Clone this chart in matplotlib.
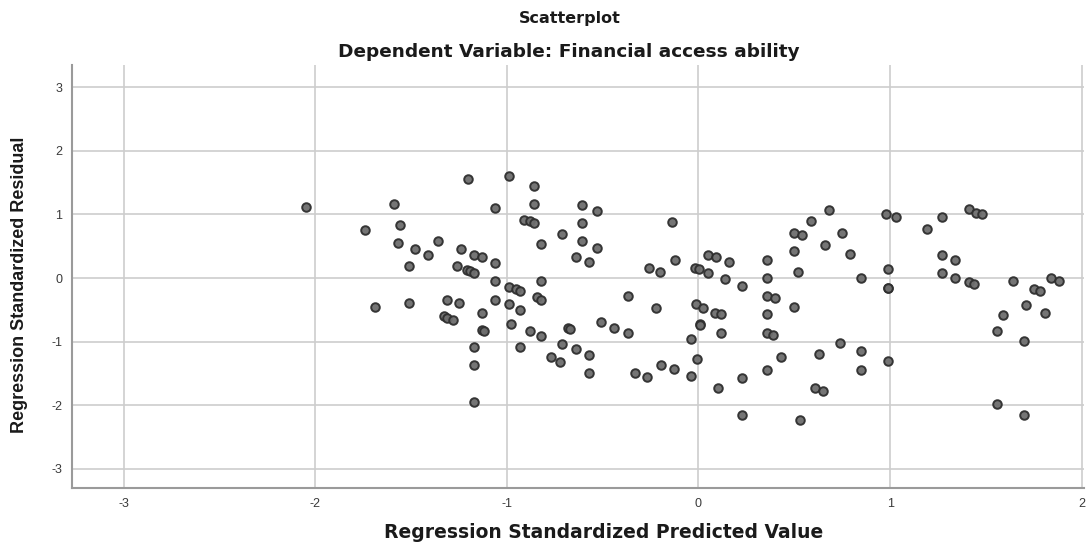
import matplotlib
matplotlib.use('Agg')
import matplotlib.pyplot as plt

# valores (predito padronizado, residuo padronizado)
predito = [-2.05, -1.74, -1.59, -1.56, -1.57, -1.69, -1.20, -0.99, -0.86, -1.06,
           -0.86, -0.61, -0.53, -0.91, -0.88, -0.86, -0.61, -0.71, -0.82, -0.61,
           -0.53, -0.14, -1.48, -1.41, -1.36, -1.24, -1.17, -1.13, -1.51, -1.26,
           -1.21, -1.19, -1.17, -1.06, -0.64, -0.57, -0.26, -0.20, -0.125, -0.02,
           0.005, 0.05, 0.05, 0.09, -1.06, -0.99, -0.95, -0.93, -0.82, -0.37,
           -1.51, -1.31, -1.25, -1.33, -1.31, -1.28, -1.13, -1.06, -0.99, -0.93,
           -0.84, -0.82, -0.98, -1.13, -1.12, -0.88, -0.82, -0.68, -0.67, -0.51,
           -0.44, -0.37, -1.17, -0.93, -0.71, -0.64, -0.57, -0.77, -0.72, -1.17,
           -0.57, -0.33, -0.27, -0.195, -0.127, -0.04, -0.04, -0.01, -0.014, 0.026,
           0.087, 0.12, 0.009, 0.01, 0.12, 0.10, -1.17, -0.22, 0.16, 0.136,
           0.226, 0.36, 0.36, 0.36, 0.40, 0.50, 0.54, 0.50, 0.52, 0.585,
           0.66, 0.68, 0.75, 0.79, 0.85, 0.98, 1.03, 0.99, 0.99, 0.99,
           1.19, 1.27, 1.27, 1.34, 1.27, 1.34, 1.41, 1.44, 1.41, 1.45,
           1.48, 1.64, 1.75, 1.78, 1.84, 1.88, 0.36, 0.50, 0.36, 0.39,
           0.43, 0.36, 0.226, 0.226, 0.53, 0.63, 0.74, 0.85, 0.85, 0.61,
           0.65, 0.99, 1.71, 1.59, 1.81, 1.56, 1.70, 1.56, 1.70]
residuo = [1.12, 0.76, 1.16, 0.83, 0.55, -0.45, 1.56, 1.61, 1.45, 1.11,
           1.16, 1.15, 1.06, 0.92, 0.90, 0.87, 0.86, 0.69, 0.54, 0.58,
           0.48, 0.88, 0.45, 0.37, 0.59, 0.45, 0.37, 0.33, 0.19, 0.19,
           0.13, 0.11, 0.08, 0.24, 0.33, 0.25, 0.16, 0.09, 0.29, 0.16,
           0.14, 0.08, 0.37, 0.33, -0.05, -0.14, -0.18, -0.20, -0.05, -0.28,
           -0.39, -0.34, -0.40, -0.60, -0.63, -0.66, -0.55, -0.34, -0.41, -0.50,
           -0.30, -0.34, -0.72, -0.82, -0.83, -0.83, -0.91, -0.79, -0.80, -0.69,
           -0.79, -0.86, -1.08, -1.08, -1.04, -1.12, -1.21, -1.25, -1.32, -1.37,
           -1.50, -1.50, -1.56, -1.37, -1.44, -1.54, -0.96, -1.28, -0.41, -0.47,
           -0.55, -0.57, -0.73, -0.74, -0.87, -1.73, -1.95, -0.47, 0.25, -0.02,
           -0.13, 0.29, 0.0, -0.28, -0.31, 0.71, 0.67, 0.43, 0.10, 0.90,
           0.52, 1.07, 0.71, 0.38, 0.005, 1.01, 0.96, 0.14, -0.15, -0.16,
           0.77, 0.96, 0.37, 0.29, 0.08, 0.0, -0.07, -0.10, 1.08, 1.03,
           1.00, -0.05, -0.18, -0.21, 0.0, -0.05, -0.57, -0.45, -0.86, -0.90,
           -1.24, -1.45, -1.57, -2.15, -2.23, -1.19, -1.03, -1.15, -1.45, -1.73,
           -1.78, -1.31, -0.42, -0.58, -0.55, -0.83, -0.99, -1.99, -2.15]

ticksX = [-3, -2, -1, 0, 1, 2]
ticksY = [-3, -2, -1, 0, 1, 2, 3]

plt.rcParams['font.family'] = ['Liberation Sans', 'DejaVu Sans']
plt.rcParams['axes.unicode_minus'] = False

fig = plt.figure(figsize=(10.88, 5.48), dpi=100)
ax = fig.add_axes([0.066, 0.109, 0.93, 0.772])

ax.scatter(predito, residuo, s=38, facecolor='#6e6e6e', edgecolor='#2e2e2e',
           linewidth=1.4, zorder=3, alpha=0.95)

ax.set_xlim(-3.27, 2.01)
ax.set_ylim(-3.31, 3.35)
ax.set_xticks(ticksX)
ax.set_yticks(ticksY)
ax.tick_params(length=0, labelsize=9, colors='#3a3a3a')
ax.tick_params(axis='y', pad=7)
ax.tick_params(axis='x', pad=7)
ax.grid(True, color='#cdcdcd', linewidth=1.2)
ax.set_axisbelow(True)

for lado in ['top', 'right']:
    ax.spines[lado].set_visible(False)
for lado in ['left', 'bottom']:
    ax.spines[lado].set_color('#9a9a9a')
    ax.spines[lado].set_linewidth(1.5)

# fonte mais larga para imitar o texto esticado do original
largo = ['DejaVu Sans']
fig.text(570/1088, 1 - 18/548, 'Scatterplot', ha='center', va='center', family=largo,
         fontsize=11.5, fontweight='bold', color='#1a1a1a')
fig.text(569/1088, 1 - 52/548, 'Dependent Variable: Financial access ability',
         ha='center', va='center', family=largo, fontsize=13.3, fontweight='bold',
         color='#1a1a1a')
fig.text(604/1088, 1 - 533/548, 'Regression Standardized Predicted Value',
         ha='center', va='center', family=largo, fontsize=13.5, fontweight='bold',
         color='#1a1a1a')
fig.text(20/1088, 1 - 285/548, 'Regression Standardized Residual', rotation=90,
         ha='center', va='center', fontsize=13, fontweight='bold', color='#1a1a1a')

fig.savefig('out.png', dpi=100)
